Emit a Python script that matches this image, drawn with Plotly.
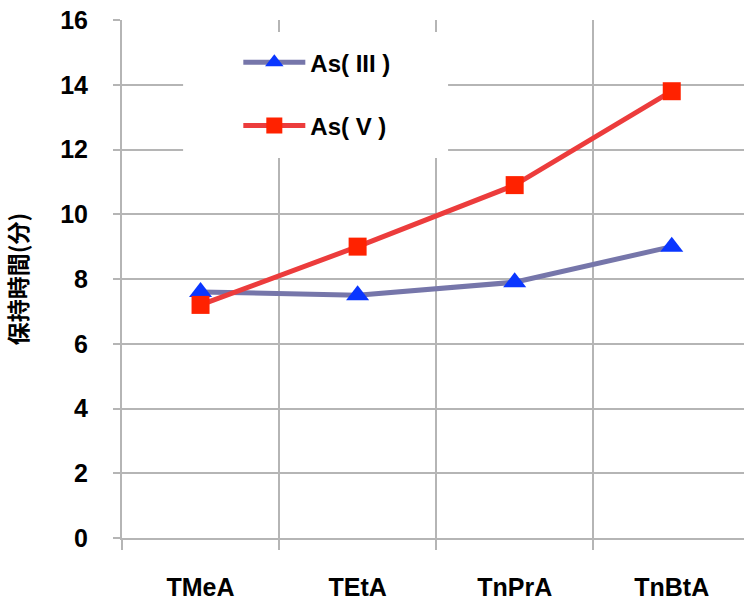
import plotly.graph_objects as go

categories = ["TMeA", "TEtA", "TnPrA", "TnBtA"]
as3_values = [7.6, 7.5, 7.9, 9.0]
as5_values = [7.2, 9.0, 10.9, 13.8]
y_ticks = [0, 2, 4, 6, 8, 10, 12, 14, 16]

GRID = "#b5b5b5"
FONT = "Liberation Sans, Arial, Noto Sans CJK JP, sans-serif"

fig = go.Figure()
fig.add_trace(go.Scatter(
    x=categories, y=as3_values, name="As( III )", mode="lines+markers",
    line=dict(color="#7676aa", width=5),
    marker=dict(symbol="triangle-up", size=20, color="#0a36ff", line=dict(width=0)),
    legendgroup="a",
))
fig.add_trace(go.Scatter(
    x=categories, y=as5_values, name="As( V )", mode="lines+markers",
    line=dict(color="#ec3c3c", width=5),
    marker=dict(symbol="square", size=18, color="#ff2200", line=dict(width=0)),
    legendgroup="b",
))

# white box behind the legend, hiding gridlines (axis coordinates)
fig.add_shape(type="rect", xref="x", yref="y",
              x0=-0.111, x1=1.576, y0=11.74, y1=15.63,
              fillcolor="white", line=dict(width=0), layer="between")

fig.update_layout(
    width=744, height=601,
    margin=dict(l=122, r=0, t=20, b=63),
    paper_bgcolor="white", plot_bgcolor="white",
    font=dict(family=FONT, size=22, color="black"),
    showlegend=True,
    legend=dict(
        x=0.187, y=0.961, xanchor="left", yanchor="top",
        bgcolor="rgba(0,0,0,0)", borderwidth=0,
        font=dict(family=FONT, size=24, color="black", weight="bold"),
        tracegroupgap=29, itemwidth=62,
    ),
    xaxis=dict(
        type="category", categoryorder="array", categoryarray=categories,
        range=[-0.5, 3.46], tickson="boundaries",
        showgrid=True, gridcolor=GRID, gridwidth=2,
        showline=True, linecolor=GRID, linewidth=2,
        ticks="outside", ticklen=10, tickcolor=GRID, tickwidth=2,
        tickfont=dict(family=FONT, size=25, color="black", weight="bold"),
        ticklabelstandoff=26,
    ),
    yaxis=dict(
        range=[0, 16], tickvals=y_ticks,
        showgrid=True, gridcolor=GRID, gridwidth=2,
        showline=True, linecolor=GRID, linewidth=2, zeroline=False,
        ticks="outside", ticklen=7, tickcolor=GRID, tickwidth=2,
        tickfont=dict(family=FONT, size=25, color="black", weight="bold"),
        ticklabelstandoff=20,
        title=dict(text="保持時間(分)", standoff=26,
                   font=dict(family="Noto Sans CJK JP, sans-serif", size=23,
                             color="black", weight="bold")),
    ),
)

fig.write_html("out.html")
